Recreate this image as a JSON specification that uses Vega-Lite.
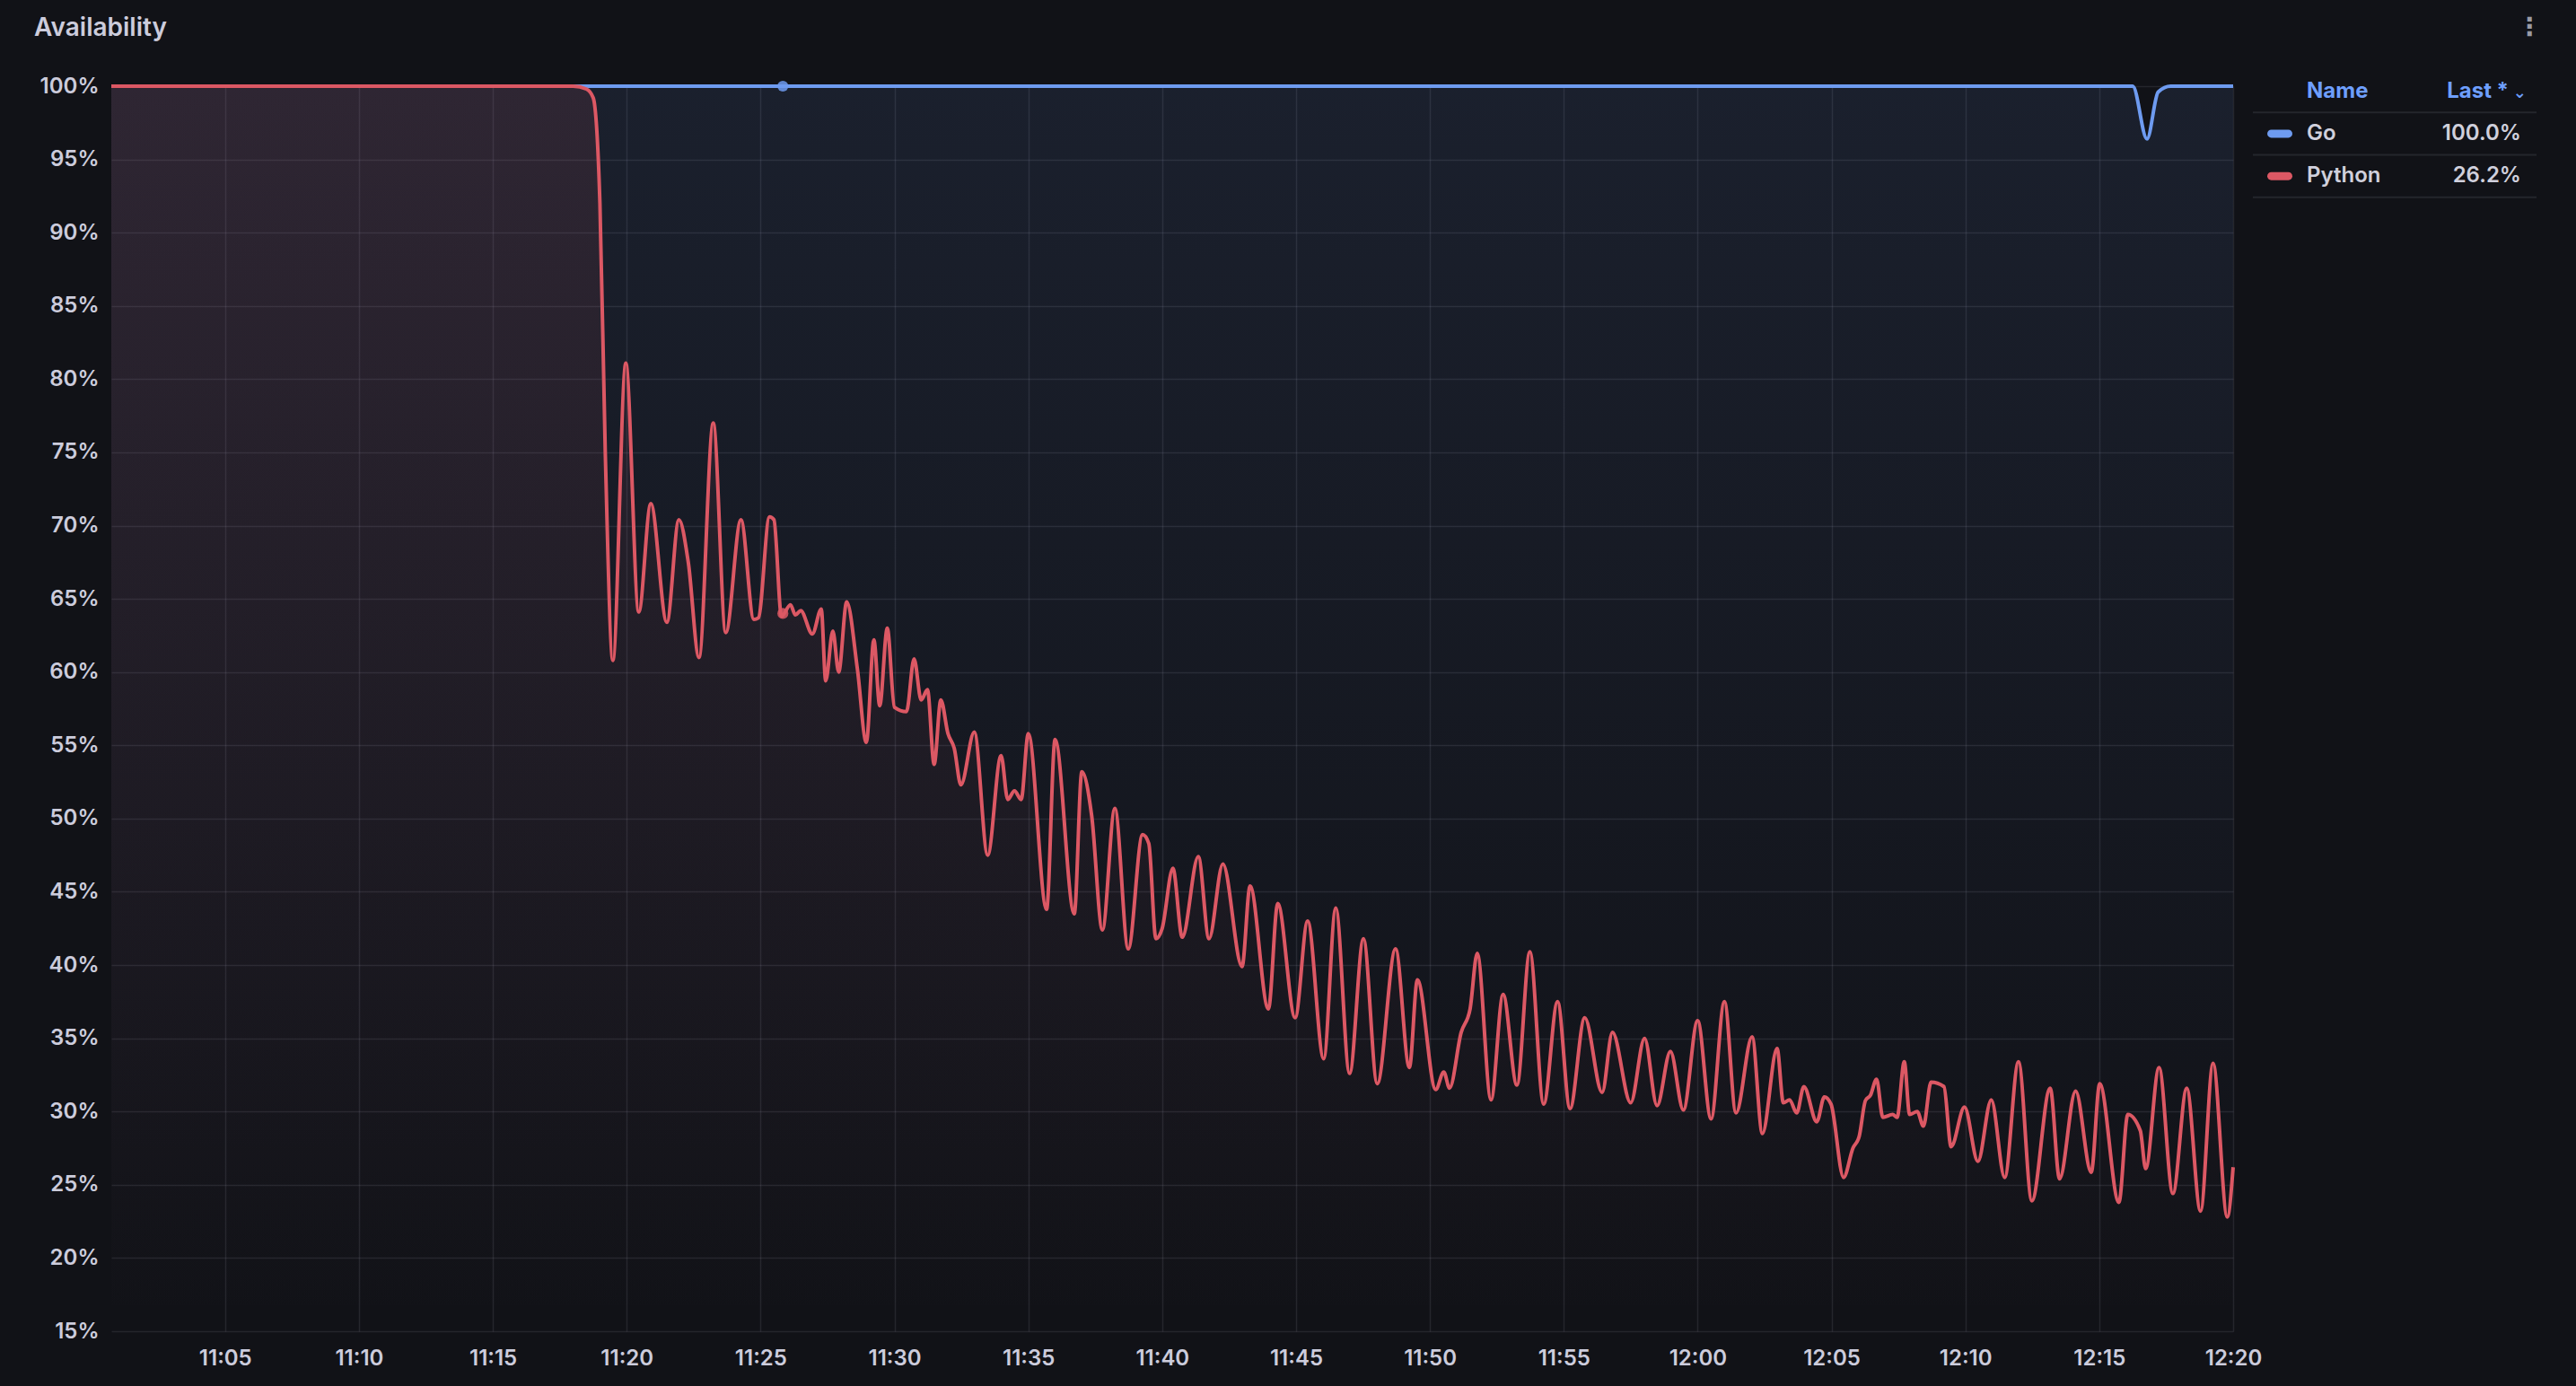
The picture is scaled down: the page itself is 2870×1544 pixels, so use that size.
{
  "$schema": "https://vega.github.io/schema/vega-lite/v6.json",
  "background": "#111217",
  "padding": {"left": 38, "top": 16, "right": 46, "bottom": 21},
  "width": 2364,
  "height": 1387,
  "title": {"text": "Availability", "anchor": "start", "frame": "bounds", "font": "Inter", "fontSize": 28, "fontWeight": 600, "color": "#ccccdc", "offset": -29, "dx": -6},
  "config": {
    "view": {"stroke": null},
    "font": "Inter",
    "axis": {"labelFont": "Inter", "labelFontSize": 24, "labelFontWeight": 600, "labelColor": "#ccccdc", "gridColor": "#ccccdc", "gridOpacity": 0.11, "gridWidth": 1.5, "domain": false, "ticks": false}
  },
  "datasets": {
    "avail": [
      {"series": "Go", "minute": 0.75, "value": 100},
      {"series": "Go", "minute": 76.25, "value": 100},
      {"series": "Go", "minute": 76.783, "value": 96.4},
      {"series": "Go", "minute": 77.2, "value": 99.6},
      {"series": "Go", "minute": 77.667, "value": 100},
      {"series": "Go", "minute": 80, "value": 100},
      {"series": "Python", "minute": 0.75, "value": 100},
      {"series": "Python", "minute": 18, "value": 100},
      {"series": "Python", "minute": 18.5, "value": 99.8},
      {"series": "Python", "minute": 18.75, "value": 99.2},
      {"series": "Python", "minute": 19, "value": 92},
      {"series": "Python", "minute": 19.2, "value": 75},
      {"series": "Python", "minute": 19.483, "value": 60.8},
      {"series": "Python", "minute": 19.967, "value": 81.1},
      {"series": "Python", "minute": 20.45, "value": 64.1},
      {"series": "Python", "minute": 20.9, "value": 71.5},
      {"series": "Python", "minute": 21.5, "value": 63.4},
      {"series": "Python", "minute": 21.95, "value": 70.4},
      {"series": "Python", "minute": 22.3, "value": 67.5},
      {"series": "Python", "minute": 22.7, "value": 61.0},
      {"series": "Python", "minute": 23.233, "value": 77.0},
      {"series": "Python", "minute": 23.7, "value": 62.7},
      {"series": "Python", "minute": 24.267, "value": 70.4},
      {"series": "Python", "minute": 24.75, "value": 63.6},
      {"series": "Python", "minute": 24.917, "value": 63.7},
      {"series": "Python", "minute": 25.333, "value": 70.6},
      {"series": "Python", "minute": 25.5, "value": 70.4},
      {"series": "Python", "minute": 25.783, "value": 63.8},
      {"series": "Python", "minute": 26.117, "value": 64.6},
      {"series": "Python", "minute": 26.3, "value": 63.9},
      {"series": "Python", "minute": 26.5, "value": 64.2},
      {"series": "Python", "minute": 26.933, "value": 62.6},
      {"series": "Python", "minute": 27.267, "value": 64.3},
      {"series": "Python", "minute": 27.433, "value": 59.4},
      {"series": "Python", "minute": 27.7, "value": 62.8},
      {"series": "Python", "minute": 27.917, "value": 60.0},
      {"series": "Python", "minute": 28.217, "value": 64.8},
      {"series": "Python", "minute": 28.617, "value": 60.2},
      {"series": "Python", "minute": 28.95, "value": 55.2},
      {"series": "Python", "minute": 29.233, "value": 62.2},
      {"series": "Python", "minute": 29.45, "value": 57.7},
      {"series": "Python", "minute": 29.733, "value": 63.0},
      {"series": "Python", "minute": 30, "value": 57.6},
      {"series": "Python", "minute": 30.45, "value": 57.3},
      {"series": "Python", "minute": 30.733, "value": 60.9},
      {"series": "Python", "minute": 31, "value": 58.1},
      {"series": "Python", "minute": 31.233, "value": 58.8},
      {"series": "Python", "minute": 31.483, "value": 53.7},
      {"series": "Python", "minute": 31.733, "value": 58.1},
      {"series": "Python", "minute": 32, "value": 55.8},
      {"series": "Python", "minute": 32.233, "value": 54.8},
      {"series": "Python", "minute": 32.483, "value": 52.3},
      {"series": "Python", "minute": 32.983, "value": 55.9},
      {"series": "Python", "minute": 33.483, "value": 47.5},
      {"series": "Python", "minute": 33.983, "value": 54.3},
      {"series": "Python", "minute": 34.233, "value": 51.3},
      {"series": "Python", "minute": 34.483, "value": 51.9},
      {"series": "Python", "minute": 34.733, "value": 51.3},
      {"series": "Python", "minute": 35, "value": 55.8},
      {"series": "Python", "minute": 35.683, "value": 43.8},
      {"series": "Python", "minute": 36, "value": 55.4},
      {"series": "Python", "minute": 36.717, "value": 43.5},
      {"series": "Python", "minute": 37, "value": 53.2},
      {"series": "Python", "minute": 37.367, "value": 50.2},
      {"series": "Python", "minute": 37.767, "value": 42.4},
      {"series": "Python", "minute": 38.233, "value": 50.7},
      {"series": "Python", "minute": 38.733, "value": 41.1},
      {"series": "Python", "minute": 39.267, "value": 48.9},
      {"series": "Python", "minute": 39.5, "value": 48.3},
      {"series": "Python", "minute": 39.767, "value": 41.8},
      {"series": "Python", "minute": 40, "value": 42.5},
      {"series": "Python", "minute": 40.4, "value": 46.6},
      {"series": "Python", "minute": 40.75, "value": 41.9},
      {"series": "Python", "minute": 41.35, "value": 47.4},
      {"series": "Python", "minute": 41.75, "value": 41.8},
      {"series": "Python", "minute": 42.267, "value": 46.9},
      {"series": "Python", "minute": 42.983, "value": 39.9},
      {"series": "Python", "minute": 43.283, "value": 45.4},
      {"series": "Python", "minute": 43.967, "value": 37.0},
      {"series": "Python", "minute": 44.317, "value": 44.2},
      {"series": "Python", "minute": 44.967, "value": 36.4},
      {"series": "Python", "minute": 45.433, "value": 43.0},
      {"series": "Python", "minute": 46.033, "value": 33.6},
      {"series": "Python", "minute": 46.483, "value": 43.9},
      {"series": "Python", "minute": 47, "value": 32.6},
      {"series": "Python", "minute": 47.517, "value": 41.8},
      {"series": "Python", "minute": 48.033, "value": 31.9},
      {"series": "Python", "minute": 48.717, "value": 41.1},
      {"series": "Python", "minute": 49.233, "value": 33.0},
      {"series": "Python", "minute": 49.533, "value": 39.0},
      {"series": "Python", "minute": 50.217, "value": 31.5},
      {"series": "Python", "minute": 50.517, "value": 32.7},
      {"series": "Python", "minute": 50.733, "value": 31.6},
      {"series": "Python", "minute": 51.167, "value": 35.4},
      {"series": "Python", "minute": 51.5, "value": 37.0},
      {"series": "Python", "minute": 51.767, "value": 40.8},
      {"series": "Python", "minute": 52.283, "value": 30.8},
      {"series": "Python", "minute": 52.733, "value": 38.0},
      {"series": "Python", "minute": 53.25, "value": 31.8},
      {"series": "Python", "minute": 53.733, "value": 40.9},
      {"series": "Python", "minute": 54.25, "value": 30.5},
      {"series": "Python", "minute": 54.767, "value": 37.5},
      {"series": "Python", "minute": 55.233, "value": 30.2},
      {"series": "Python", "minute": 55.783, "value": 36.4},
      {"series": "Python", "minute": 56.433, "value": 31.3},
      {"series": "Python", "minute": 56.817, "value": 35.4},
      {"series": "Python", "minute": 57.5, "value": 30.6},
      {"series": "Python", "minute": 58.017, "value": 35.0},
      {"series": "Python", "minute": 58.483, "value": 30.4},
      {"series": "Python", "minute": 58.983, "value": 34.1},
      {"series": "Python", "minute": 59.467, "value": 30.1},
      {"series": "Python", "minute": 60, "value": 36.2},
      {"series": "Python", "minute": 60.5, "value": 29.5},
      {"series": "Python", "minute": 61, "value": 37.5},
      {"series": "Python", "minute": 61.433, "value": 29.9},
      {"series": "Python", "minute": 62.033, "value": 35.1},
      {"series": "Python", "minute": 62.417, "value": 28.5},
      {"series": "Python", "minute": 62.967, "value": 34.3},
      {"series": "Python", "minute": 63.2, "value": 30.6},
      {"series": "Python", "minute": 63.433, "value": 30.8},
      {"series": "Python", "minute": 63.7, "value": 29.9},
      {"series": "Python", "minute": 63.967, "value": 31.7},
      {"series": "Python", "minute": 64.45, "value": 29.3},
      {"series": "Python", "minute": 64.733, "value": 31.0},
      {"series": "Python", "minute": 64.983, "value": 30.5},
      {"series": "Python", "minute": 65.45, "value": 25.5},
      {"series": "Python", "minute": 65.8, "value": 27.5},
      {"series": "Python", "minute": 66.033, "value": 28.3},
      {"series": "Python", "minute": 66.267, "value": 30.75},
      {"series": "Python", "minute": 66.45, "value": 31.1},
      {"series": "Python", "minute": 66.683, "value": 32.2},
      {"series": "Python", "minute": 66.917, "value": 29.6},
      {"series": "Python", "minute": 67.283, "value": 29.8},
      {"series": "Python", "minute": 67.45, "value": 29.6},
      {"series": "Python", "minute": 67.717, "value": 33.4},
      {"series": "Python", "minute": 67.917, "value": 29.8},
      {"series": "Python", "minute": 68.2, "value": 30.0},
      {"series": "Python", "minute": 68.433, "value": 29.0},
      {"series": "Python", "minute": 68.717, "value": 32.0},
      {"series": "Python", "minute": 69.2, "value": 31.7},
      {"series": "Python", "minute": 69.467, "value": 27.6},
      {"series": "Python", "minute": 69.967, "value": 30.3},
      {"series": "Python", "minute": 70.467, "value": 26.6},
      {"series": "Python", "minute": 70.967, "value": 30.8},
      {"series": "Python", "minute": 71.467, "value": 25.5},
      {"series": "Python", "minute": 71.983, "value": 33.4},
      {"series": "Python", "minute": 72.483, "value": 23.9},
      {"series": "Python", "minute": 73.167, "value": 31.6},
      {"series": "Python", "minute": 73.517, "value": 25.4},
      {"series": "Python", "minute": 74.117, "value": 31.4},
      {"series": "Python", "minute": 74.7, "value": 25.85},
      {"series": "Python", "minute": 75.017, "value": 31.9},
      {"series": "Python", "minute": 75.733, "value": 23.8},
      {"series": "Python", "minute": 76.067, "value": 29.8},
      {"series": "Python", "minute": 76.533, "value": 28.7},
      {"series": "Python", "minute": 76.733, "value": 26.1},
      {"series": "Python", "minute": 77.233, "value": 33.0},
      {"series": "Python", "minute": 77.75, "value": 24.4},
      {"series": "Python", "minute": 78.267, "value": 31.6},
      {"series": "Python", "minute": 78.783, "value": 23.2},
      {"series": "Python", "minute": 79.25, "value": 33.3},
      {"series": "Python", "minute": 79.783, "value": 22.8},
      {"series": "Python", "minute": 80, "value": 26.2}
    ],
    "hoverpts": [
      {"series": "Go", "minute": 25.833, "value": 100},
      {"series": "Python", "minute": 25.833, "value": 64.0}
    ],
    "legendrows": [
      {"row": 1, "series": "Go", "last": "100.0%"},
      {"row": 2, "series": "Python", "last": "26.2%"}
    ]
  },
  "layer": [
    {
      "data": {"name": "avail"},
      "encoding": {
        "x": {
          "field": "minute", "type": "quantitative",
          "scale": {"domain": [0.75, 80], "nice": false, "zero": false},
          "axis": {"title": null, "values": [5, 10, 15, 20, 25, 30, 35, 40, 45, 50, 55, 60, 65, 70, 75, 80], "labelExpr": "format(11 + floor(datum.value / 60), 'd') + ':' + format(datum.value % 60, '02d')", "labelFlush": false, "labelOverlap": false, "labelPadding": 18}
        },
        "y": {
          "field": "value", "type": "quantitative",
          "scale": {"domain": [15, 100], "nice": false, "zero": false},
          "axis": {"title": null, "values": [15, 20, 25, 30, 35, 40, 45, 50, 55, 60, 65, 70, 75, 80, 85, 90, 95, 100], "labelExpr": "datum.value + '%'", "labelPadding": 14}
        }
      },
      "layer": [
        {
          "transform": [{"filter": "datum.series === 'Go'"}],
          "mark": {"type": "area", "interpolate": "monotone", "clip": true,
            "fill": {"gradient": "linear", "x1": 0, "y1": 0, "x2": 0, "y2": 1, "stops": [{"offset": 0, "color": "rgba(110,155,240,0.10)"}, {"offset": 1, "color": "rgba(110,155,240,0)"}]}},
          "encoding": {"y2": {"datum": 15}}
        },
        {
          "transform": [{"filter": "datum.series === 'Python'"}],
          "mark": {"type": "area", "interpolate": "monotone", "clip": true,
            "fill": {"gradient": "linear", "x1": 0, "y1": 0, "x2": 0, "y2": 1, "stops": [{"offset": 0, "color": "rgba(224,90,102,0.10)"}, {"offset": 1, "color": "rgba(224,90,102,0)"}]}},
          "encoding": {"y2": {"datum": 15}}
        },
        {
          "data": {"values": [{"minute": 25.833}]},
          "mark": {"type": "rule", "color": "#ccccdc", "opacity": 0.28, "strokeWidth": 1.5, "strokeDash": [5, 5]},
          "encoding": {"y": {"datum": 100}, "y2": {"datum": 15}}
        },
        {
          "data": {"values": [{"value": 67.7}]},
          "mark": {"type": "rule", "color": "#ccccdc", "opacity": 0.12, "strokeWidth": 1.5, "strokeDash": [5, 5]},
          "encoding": {"x": {"datum": 0.75}, "x2": {"datum": 80}}
        },
        {
          "transform": [{"filter": "datum.series === 'Go'"}],
          "mark": {"type": "line", "interpolate": "monotone", "strokeWidth": 4},
          "encoding": {"color": {"field": "series", "type": "nominal", "scale": {"domain": ["Go", "Python"], "range": ["#6e9bf0", "#dc5864"]}, "legend": null}}
        },
        {
          "transform": [{"filter": "datum.series === 'Python'"}],
          "mark": {"type": "line", "interpolate": "monotone", "strokeWidth": 4},
          "encoding": {"color": {"field": "series", "type": "nominal", "scale": {"domain": ["Go", "Python"], "range": ["#6e9bf0", "#dc5864"]}, "legend": null}}
        },
        {
          "data": {"name": "hoverpts"},
          "mark": {"type": "point", "filled": true, "size": 150, "opacity": 0.85},
          "encoding": {"color": {"field": "series", "type": "nominal", "scale": {"domain": ["Go", "Python"], "range": ["#6e9bf0", "#dc5864"]}, "legend": null}}
        }
      ]
    },
    {
      "encoding": {
        "x": {"datum": 0, "type": "quantitative", "scale": {"domain": [0, 100], "range": [2386, 2702], "nice": false, "zero": false}, "axis": null},
        "y": {"field": "row", "type": "quantitative", "scale": {"domain": [-0.121, 29.26], "reverse": true, "nice": false, "zero": false}, "axis": null}
      },
      "layer": [
        {
          "data": {"values": [{"row": 0.5}, {"row": 1.5}, {"row": 2.5}]},
          "mark": {"type": "rule", "color": "#24262c", "strokeWidth": 2},
          "encoding": {"x2": {"datum": 100}}
        },
        {
          "data": {"values": [{"row": -1.5, "icon": "⋮"}]},
          "mark": {"type": "text", "align": "center", "baseline": "middle", "font": "DejaVu Sans", "fontSize": 28, "fontWeight": "bold", "color": "#9a9ba5"},
          "encoding": {"x": {"datum": 97.5, "type": "quantitative"}, "text": {"field": "icon"}}
        },
        {
          "data": {"values": [{"row": 0, "name": "Name", "last": "Last *", "chevron": "⌄"}]},
          "layer": [
            {
              "mark": {"type": "text", "align": "left", "baseline": "middle", "font": "Inter", "fontSize": 24, "fontWeight": 700, "color": "#6e9fff"},
              "encoding": {"x": {"datum": 19, "type": "quantitative"}, "text": {"field": "name"}}
            },
            {
              "mark": {"type": "text", "align": "right", "baseline": "middle", "font": "Inter", "fontSize": 24, "fontWeight": 700, "color": "#6e9fff"},
              "encoding": {"x": {"datum": 90.2, "type": "quantitative"}, "text": {"field": "last"}}
            },
            {
              "mark": {"type": "text", "align": "center", "baseline": "middle", "font": "DejaVu Sans", "fontSize": 18, "fontWeight": "bold", "color": "#6e9fff", "dy": 2},
              "encoding": {"x": {"datum": 94.1, "type": "quantitative"}, "text": {"field": "chevron"}}
            }
          ]
        },
        {
          "data": {"name": "legendrows"},
          "layer": [
            {
              "mark": {"type": "rule", "strokeWidth": 9, "strokeCap": "round"},
              "encoding": {
                "x": {"datum": 6.5, "type": "quantitative"}, "x2": {"datum": 12.5},
                "color": {"field": "series", "type": "nominal", "scale": {"domain": ["Go", "Python"], "range": ["#6e9bf0", "#dc5864"]}, "legend": null}
              }
            },
            {
              "mark": {"type": "text", "align": "left", "baseline": "middle", "font": "Inter", "fontSize": 24, "fontWeight": 600, "color": "#d0d0dc"},
              "encoding": {"x": {"datum": 19, "type": "quantitative"}, "text": {"field": "series"}}
            },
            {
              "mark": {"type": "text", "align": "right", "baseline": "middle", "font": "Inter", "fontSize": 24, "fontWeight": 600, "color": "#d0d0dc"},
              "encoding": {"x": {"datum": 94.6, "type": "quantitative"}, "text": {"field": "last"}}
            }
          ]
        }
      ]
    }
  ],
  "resolve": {"scale": {"x": "independent", "y": "independent"}}
}
